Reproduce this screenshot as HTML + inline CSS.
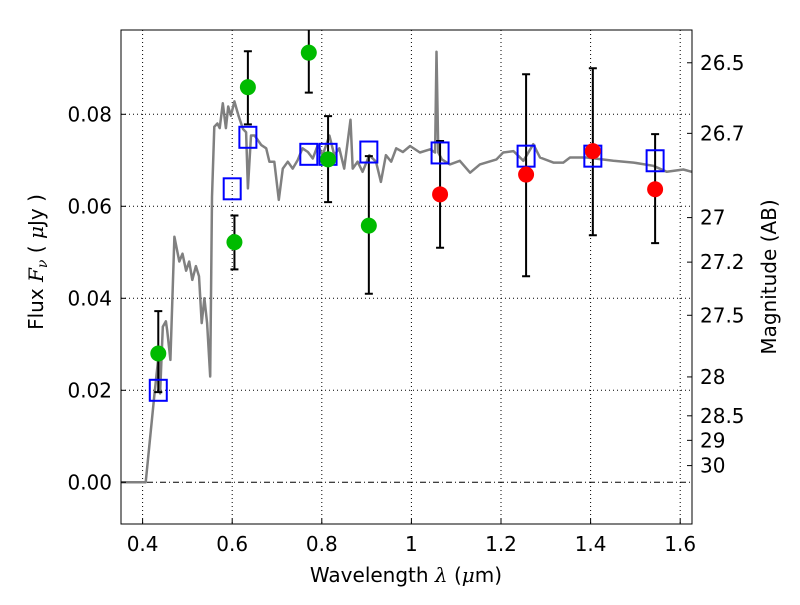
<!DOCTYPE html>
<html><head><meta charset="utf-8"><style>
body{margin:0;background:#fff;}
svg text{font-family:"DejaVu Sans","Liberation Sans",sans-serif;font-size:20px;fill:#000;}
</style></head><body>
<svg id="chart" width="800" height="600" xmlns="http://www.w3.org/2000/svg">
<g id="grid"></g>
<g id="model"></g>
<g id="marks"></g>
<rect x="121" y="30" width="571" height="494" fill="none" stroke="#000" stroke-width="1"/>
<g id="axes"></g>
<text x="406" y="582" text-anchor="middle">Wavelength  <tspan font-style="italic" font-family="DejaVu Serif,serif">λ</tspan> (<tspan font-style="italic" font-family="DejaVu Serif,serif">μ</tspan>m)</text>
<text transform="translate(43,262) rotate(-90)" text-anchor="middle">Flux  <tspan font-style="italic" font-family="DejaVu Serif,serif">F</tspan><tspan font-style="italic" font-family="DejaVu Serif,serif" font-size="14" dy="4">ν</tspan><tspan dy="-4">  ( </tspan><tspan font-style="italic" font-family="DejaVu Serif,serif">μ</tspan>Jy )</text>
<text transform="translate(776,277) rotate(-90)" text-anchor="middle">Magnitude (AB)</text>
</svg>
<script>
const xTicks=[0.4,0.6,0.8,1.0,1.2,1.4,1.6];
const xTickLabels=["0.4","0.6","0.8","1","1.2","1.4","1.6"];
const yTicks=[0,0.02,0.04,0.06,0.08];
const yTickLabels=["0.00","0.02","0.04","0.06","0.08"];
const magTicks=[26.5,26.7,27,27.2,27.5,28,28.5,29,30];
const magLabels=["26.5","26.7","27","27.2","27.5","28","28.5","29","30"];
const modelLam=[0.352,0.407,0.426,0.437,0.439,0.445,0.452,0.455,0.462,0.471,0.482,0.489,0.497,0.504,0.511,0.519,0.526,0.532,0.538,0.544,0.551,0.555,0.560,0.567,0.572,0.579,0.586,0.591,0.597,0.605,0.614,0.624,0.631,0.635,0.642,0.650,0.665,0.676,0.683,0.694,0.704,0.713,0.724,0.735,0.746,0.757,0.769,0.780,0.791,0.802,0.817,0.828,0.839,0.850,0.864,0.869,0.880,0.891,0.906,0.921,0.932,0.943,0.955,0.966,0.981,0.997,1.019,1.042,1.053,1.056,1.060,1.068,1.086,1.108,1.131,1.153,1.190,1.205,1.228,1.250,1.272,1.287,1.317,1.339,1.354,1.391,1.451,1.496,1.540,1.570,1.607,1.626];
const modelFlux=[0,0,0.0186,0.0288,0.0193,0.0338,0.035,0.033,0.0266,0.0534,0.048,0.0497,0.046,0.048,0.044,0.047,0.0448,0.0346,0.040,0.0346,0.023,0.062,0.0773,0.078,0.077,0.0824,0.077,0.0817,0.0797,0.0828,0.0797,0.0768,0.0761,0.0639,0.0754,0.0754,0.0733,0.0726,0.0697,0.0697,0.0614,0.0682,0.0697,0.0682,0.070,0.0726,0.0718,0.0704,0.0733,0.0711,0.0754,0.0711,0.0726,0.0682,0.0788,0.0682,0.0697,0.0675,0.0711,0.0697,0.0653,0.0711,0.0697,0.0726,0.0718,0.0731,0.0717,0.0724,0.0717,0.0936,0.0717,0.0702,0.0691,0.0699,0.0673,0.0691,0.0702,0.0717,0.072,0.0699,0.0735,0.0706,0.0695,0.0695,0.0706,0.0706,0.0699,0.0695,0.0688,0.0675,0.068,0.0675];
const greenLam=[0.435,0.605,0.635,0.771,0.814,0.905];
const greenFlux=[0.028,0.0522,0.0859,0.0934,0.0702,0.0558];
const greenLo=[0.0196,0.0463,0.0778,0.0847,0.0609,0.041];
const greenHi=[0.0372,0.058,0.0937,0.105,0.0796,0.0709];
const redLam=[1.064,1.256,1.405,1.544];
const redFlux=[0.0626,0.0669,0.072,0.0637];
const redLo=[0.051,0.0448,0.0537,0.052];
const redHi=[0.0742,0.0887,0.090,0.0757];
const boxLam=[0.435,0.6,0.635,0.771,0.814,0.905,1.064,1.256,1.405,1.544];
const boxFlux=[0.020,0.0638,0.075,0.0713,0.0713,0.0718,0.0716,0.0709,0.0709,0.0699];

const L=121,R=692,T=30,B=524;
const X=v=>142.6+(v-0.4)*448;
const Y=v=>482.3-v*4600;
const NS="http://www.w3.org/2000/svg";
function mk(tag,parent,attrs){const e=document.createElementNS(NS,tag);for(const k in attrs)e.setAttribute(k,attrs[k]);parent.appendChild(e);return e;}
const grid=document.getElementById('grid'),axes=document.getElementById('axes'),model=document.getElementById('model'),marks=document.getElementById('marks');
xTicks.forEach((t,i)=>{const x=X(t);
 let g=mk('line',grid,{x1:x,x2:x,y1:T,y2:B,stroke:'#000','stroke-width':1,'stroke-dasharray':'1,3'});
 
 
 let k=mk('line',axes,{x1:x,x2:x,y1:B,y2:B-5,stroke:'#000'});
 
 
 let tx=mk('text',axes,{x:x,y:B+27,'text-anchor':'middle'});tx.textContent=xTickLabels[i];
 
 
});
yTicks.forEach((t,i)=>{const y=Y(t);
 let g=mk('line',grid,{x1:L,x2:R,y1:y,y2:y,stroke:'#000','stroke-width':1,'stroke-dasharray':t===0?'6,3,1,3':'1,3'});
 
 
 let k=mk('line',axes,{x1:L,x2:L+5,y1:y,y2:y,stroke:'#000'});
 
 
 let tx=mk('text',axes,{x:L-9,y:y+7,'text-anchor':'end'});tx.textContent=yTickLabels[i];
 
 
});
magTicks.forEach((m,i)=>{const y=Y(Math.pow(10,(23.9-m)/2.5));
 let k=mk('line',axes,{x1:R,x2:R-5,y1:y,y2:y,stroke:'#000'});
 
 
 let tx=mk('text',axes,{x:R+8,y:y+7,'text-anchor':'start'});tx.textContent=magLabels[i];
 
 
});
const pts=modelLam.map((l,i)=>X(l).toFixed(1)+','+Y(modelFlux[i]).toFixed(1)).join(' ');
const pl=mk('polyline',model,{points:pts,fill:'none',stroke:'#808080','stroke-width':2.5,'stroke-linejoin':'round'});


const clip=mk('clipPath',document.getElementById('chart'),{id:'pc'});mk('rect',clip,{x:L,y:T,width:R-L,height:B-T});
marks.setAttribute('clip-path','url(#pc)');
function errs(lams,lo,hi){lams.forEach((l,i)=>{const x=X(l);
 const e=mk('path',marks,{d:`M${x},${Y(lo[i])}V${Y(hi[i])}M${x-4},${Y(lo[i])}h8M${x-4},${Y(hi[i])}h8`,stroke:'#000','stroke-width':2,fill:'none'});
 
 
});}
errs(greenLam,greenLo,greenHi);errs(redLam,redLo,redHi);
boxLam.forEach((l,i)=>{
 const b=mk('rect',marks,{x:X(l)-8.5,y:Y(boxFlux[i])-10.5,width:17,height:21,fill:'none',stroke:'#0000ff','stroke-width':2});
 
 
});
greenLam.forEach((l,i)=>{
 const c=mk('circle',marks,{cx:X(l),cy:Y(greenFlux[i]),r:8,fill:'#00bb00'});
 
 
});
redLam.forEach((l,i)=>{
 const c=mk('circle',marks,{cx:X(l),cy:Y(redFlux[i]),r:8,fill:'#ff0000'});
 
 
});
</script>
</body></html>
